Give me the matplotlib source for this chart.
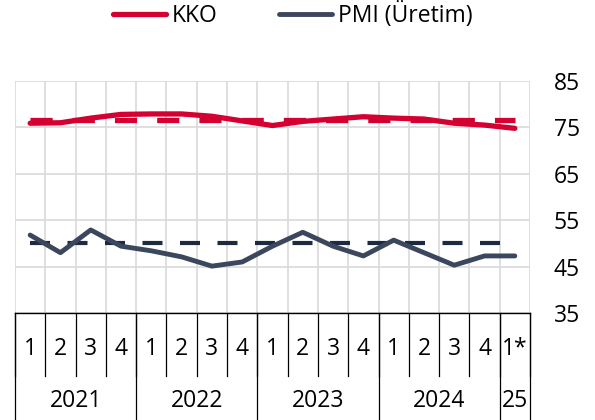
import matplotlib
matplotlib.use("Agg")
import matplotlib.pyplot as plt

plt.rcParams['font.family'] = ['Open Sans', 'DejaVu Sans']

# veriler (çeyreklik)
quarters = ['1', '2', '3', '4', '1', '2', '3', '4', '1', '2', '3', '4',
            '1', '2', '3', '4', '1*']
years = ['2021', '2022', '2023', '2024', '25']
year_len = [4, 4, 4, 4, 1]
kko = [75.9, 76.0, 77.0, 77.8, 77.9, 77.9, 77.4, 76.4, 75.4, 76.3, 76.8,
       77.3, 77.0, 76.8, 75.9, 75.5, 74.8]
pmi = [51.8, 48.0, 52.9, 49.4, 48.4, 47.1, 45.1, 46.0, 49.4, 52.4, 49.4,
       47.3, 50.7, 48.0, 45.3, 47.3, 47.3]
kko_avg = 76.6
pmi_eşik = 50

red = '#d50032'
navy = '#3b475c'
navy_dash = '#1c2b3f'

fig = plt.figure(figsize=(5.95, 4.2), dpi=100)
ax = fig.add_axes([15 / 595, 107 / 420, 515 / 595, 232 / 420])

n = len(quarters)
x = [i + 0.5 for i in range(n)]

ax.plot(x, [kko_avg] * n, color=red, lw=3.8, dashes=(4.2, 3.8),
        solid_capstyle='butt', zorder=3)
ax.plot(x, [pmi_eşik] * n, color=navy_dash, lw=3.0, dashes=(4.8, 4.2),
        zorder=3)
ax.plot(x, kko, color=red, lw=3.8, label='KKO', zorder=4,
        solid_capstyle='round')
ax.plot(x, pmi, color=navy, lw=3.5, label='PMI (Üretim)', zorder=4,
        solid_capstyle='round')

ax.set_xlim(0, n)
ax.set_ylim(35, 85)
ax.set_yticks([35, 45, 55, 65, 75, 85])
ax.yaxis.tick_right()
ax.tick_params(axis='y', length=0, pad=17, labelsize=16.5)
ax.set_xticks(range(n + 1))
ax.set_xticklabels([])
ax.tick_params(axis='x', length=0)
ax.grid(True, color='#d9d9d9', lw=1.2)
ax.set_axisbelow(True)
for s in ['left', 'right', 'top']:
    ax.spines[s].set_visible(False)
ax.spines['bottom'].set_color('black')
ax.spines['bottom'].set_linewidth(1.0)
ax.spines['bottom'].set_zorder(5)

# iki seviyeli x ekseni
tr = ax.get_xaxis_transform()
for i in range(n + 1):
    ax.plot([i, i], [0, -0.27], color='black', lw=0.9, transform=tr,
            clip_on=False)
for i, q in enumerate(quarters):
    ax.text(i + 0.5, -0.155, q, transform=tr, ha='center', va='center',
            fontsize=16.5)
pos = 0
for y, k in zip(years, year_len):
    ax.plot([pos, pos], [0, -0.47], color='black', lw=0.9, transform=tr,
            clip_on=False)
    ax.text(pos + k / 2, -0.38, y, transform=tr, ha='center', va='center',
            fontsize=16.5)
    pos += k
ax.plot([pos, pos], [0, -0.47], color='black', lw=0.9, transform=tr,
        clip_on=False)

fig.legend(loc='upper center', bbox_to_anchor=(0.492, 1.045), ncol=2,
           frameon=False, fontsize=16.5, handlelength=2.3,
           handletextpad=0.25, columnspacing=2.7)

fig.savefig('out.png', dpi=100)
